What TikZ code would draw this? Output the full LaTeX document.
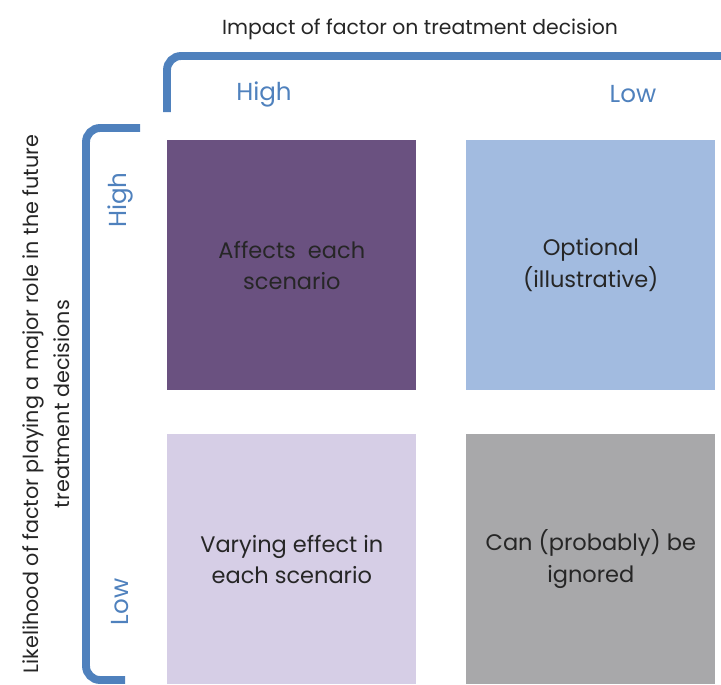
\documentclass[tikz,border=0pt]{standalone}
\usepackage{fontspec}
\setmainfont{Poppins}
\usepackage{tikz}
\usetikzlibrary{shapes,arrows,positioning}
\definecolor{axisblue}{HTML}{4F81BD}
\definecolor{boxpurple}{HTML}{6A5180}
\definecolor{boxblue}{HTML}{A2BBE0}
\definecolor{boxlilac}{HTML}{D6CEE6}
\definecolor{boxgray}{HTML}{A8A8AA}
\definecolor{labelgray}{HTML}{262626}
\tikzset{
  cell/.style={minimum width=4.98cm, minimum height=5cm, inner sep=0pt, align=center, text=labelgray, font=\fontsize{12.8}{18}\selectfont},
  level/.style={text=axisblue, font=\fontsize{14}{16}\selectfont},
  bracket/.style={draw=axisblue, line width=4.5pt, rounded corners=8pt}
}
\begin{document}
\begin{tikzpicture}[x=0.02cm, y=-0.02cm]
					\useasboundingbox (0,0) rectangle (721,684);
					% axis titles
					\node[text=labelgray, font=\fontsize{11.6}{15.5}\selectfont] (impact) at (420,29) {Impact of factor on treatment decision};
					\node[rotate=90, align=center, text=labelgray, font=\fontsize{11.8}{18}\selectfont] (likely) at (46,404) {Likelihood of factor playing a major role in the future\\treatment decisions};
					
					% brackets
					\draw[bracket] (167,112) -- (167,56) -- (721,56);
					\draw[bracket] (140,128) -- (86,128) -- (86,680) -- (125,680);
					
					% level labels
					\node[level] (colhigh) at (264,94) {High};
					\node[level] (collow) at (633,94) {Low};
					\node[level, rotate=90] (rowhigh) at (120,200) {High};
					\node[level, rotate=90] (rowlow) at (120,602) {Low};
					
					% quadrants
					\node[cell, fill=boxpurple, anchor=north west] (hh) at (167,140) {Affects\ \ each\\scenario};
					\node[cell, fill=boxblue, anchor=north west] (hl) at (466,140) {Optional\\(illustrative)};
					\node[cell, fill=boxlilac, anchor=north west] (lh) at (167,434) {Varying effect in\\each scenario};
					\node[cell, fill=boxgray, anchor=north west] (ll) at (466,434) {Can (probably) be\\ignored};
				\end{tikzpicture}
\end{document}
